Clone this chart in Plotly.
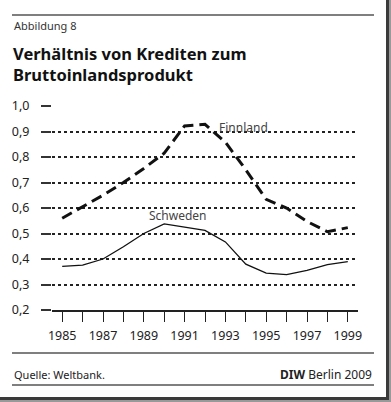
import plotly.graph_objects as go

years = list(range(1985, 2000))
finnland = [0.56, 0.605, 0.65, 0.70, 0.755, 0.815, 0.922, 0.928, 0.858, 0.75, 0.634, 0.60, 0.547, 0.507, 0.523]
schweden = [0.371, 0.376, 0.40, 0.448, 0.50, 0.538, 0.525, 0.512, 0.467, 0.38, 0.345, 0.339, 0.355, 0.378, 0.39]
y_ticks = [0.2, 0.3, 0.4, 0.5, 0.6, 0.7, 0.8, 0.9, 1.0]
y_ticktext = ["0,2", "0,3", "0,4", "0,5", "0,6", "0,7", "0,8", "0,9", "1,0"]
x_ticktext = [str(y) if y % 2 == 1 else "" for y in years]

FONT = "Noto Sans"
W, H = 391, 402
ML, MR, MT, MB = 52, 33, 106, 92

fig = go.Figure()
fig.add_trace(go.Scatter(x=years, y=finnland, mode="lines", name="Finnland",
                         line=dict(color="#111", width=3, dash="11px,6px")))
fig.add_trace(go.Scatter(x=years, y=schweden, mode="lines", name="Schweden",
                         line=dict(color="#111", width=1.3)))

fig.update_layout(
    width=W, height=H,
    margin=dict(l=ML, r=MR, t=MT, b=MB, autoexpand=False),
    paper_bgcolor="white", plot_bgcolor="white",
    showlegend=False,
    font=dict(family=FONT, color="#222"),
)
fig.update_xaxes(
    range=[1984.5, 1999.5], tickvals=years, ticktext=x_ticktext,
    ticks="outside", ticklen=10, tickwidth=1.2, tickcolor="#222",
    showgrid=False, zeroline=False,
    showline=True, linecolor="#222", linewidth=1.5,
    tickfont=dict(size=12.5, color="#222", family=FONT),
    ticklabelstandoff=3, automargin=False,
)
fig.update_yaxes(
    range=[0.2, 1.0], tickvals=y_ticks, ticktext=y_ticktext,
    ticks="outside", ticklen=10, tickwidth=1.5, tickcolor="#333",
    showgrid=True, gridcolor="#222", gridwidth=1.5, griddash="dot",
    zeroline=False, showline=False,
    tickfont=dict(size=12.5, color="#222", family=FONT),
    ticklabelstandoff=9, automargin=False,
)

fig.add_annotation(x=1993.9, y=0.915, text="Finnland", showarrow=False,
                   font=dict(size=12, color="#444", family=FONT))
fig.add_annotation(x=1990.7, y=0.57, text="Schweden", showarrow=False,
                   font=dict(size=12, color="#444", family=FONT))


def xp(x):
    return (x - ML) / (W - ML - MR)


def yp(y):
    return (H - MB - y) / (H - MT - MB)


for yy in [15, 353, 385]:
    fig.add_shape(type="line", xref="paper", yref="paper", x0=xp(12), x1=xp(374),
                  y0=yp(yy), y1=yp(yy), line=dict(color="#555", width=1.5), layer="above")
# frame shadow
fig.add_shape(type="rect", xref="paper", yref="paper", x0=xp(386), x1=xp(389), y0=yp(0), y1=yp(400),
              line=dict(width=0), fillcolor="#3a3a3a")
fig.add_shape(type="rect", xref="paper", yref="paper", x0=xp(389), x1=xp(391), y0=yp(0), y1=yp(402),
              line=dict(width=0), fillcolor="#999")
fig.add_shape(type="rect", xref="paper", yref="paper", x0=xp(0), x1=xp(389), y0=yp(397), y1=yp(400),
              line=dict(width=0), fillcolor="#3a3a3a")
fig.add_shape(type="rect", xref="paper", yref="paper", x0=xp(0), x1=xp(391), y0=yp(400), y1=yp(402),
              line=dict(width=0), fillcolor="#999")

fig.add_annotation(xref="paper", yref="paper", x=xp(12), y=yp(25), xanchor="left", yanchor="middle",
                   text="Abbildung 8", showarrow=False, font=dict(size=11, color="#333", family=FONT))
fig.add_annotation(xref="paper", yref="paper", x=xp(11), y=yp(64), xanchor="left", yanchor="middle",
                   text="<b>Verhältnis von Krediten zum<br>Bruttoinlandsprodukt</b>", align="left",
                   showarrow=False, font=dict(size=16.5, color="#111", family=FONT))
fig.add_annotation(xref="paper", yref="paper", x=xp(12), y=yp(374), xanchor="left", yanchor="middle",
                   text="Quelle: Weltbank.", showarrow=False, font=dict(size=11, color="#222", family=FONT))
fig.add_annotation(xref="paper", yref="paper", x=xp(374), y=yp(374), xanchor="right", yanchor="middle",
                   text="<b>DIW</b> Berlin 2009", showarrow=False, font=dict(size=12, color="#222", family=FONT))

fig.write_html("out.html", config={"displayModeBar": False},
               post_script="document.body.style.margin='0';document.body.style.overflow='hidden';")
